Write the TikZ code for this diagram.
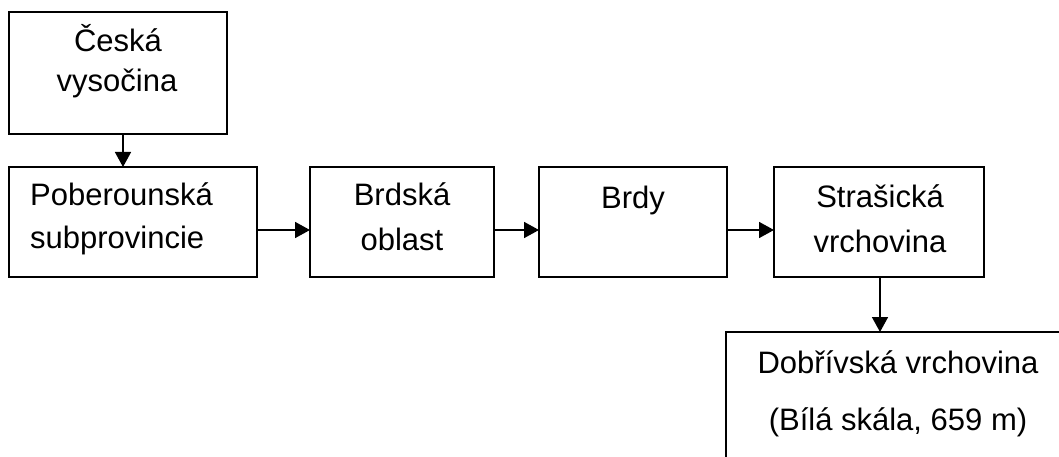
\documentclass[tikz,border=0pt]{standalone}
\usepackage{fontspec}
\setmainfont{Liberation Sans}
\usetikzlibrary{arrows.meta}
\begin{document}
\begin{tikzpicture}[x=1pt,y=-1pt,
  box/.style={draw=black,line width=1.8pt,fill=white},
  lbl/.style={inner sep=0pt,anchor=base,font=\fontsize{31}{36}\selectfont},
  lblw/.style={inner sep=0pt,anchor=base west,font=\fontsize{31}{36}\selectfont},
  arr/.style={line width=1.6pt,-{Triangle[length=15pt,width=16pt]}}]
\useasboundingbox (0,0) rectangle (1059,457);
\begin{scope}
\clip (0,0) rectangle (1059,457);
% boxes
\draw[box] (9,12) rectangle (227,134);
\draw[box] (9,167) rectangle (257,277);
\draw[box] (310,167) rectangle (494,277);
\draw[box] (539,167) rectangle (727,277);
\draw[box] (774,167) rectangle (984,277);
\draw[box] (726,332) rectangle (1075,520);
\end{scope}
% anchor coordinates
\coordinate (ceskaB) at (123,134);
\coordinate (pobT) at (123,167);
\coordinate (pobR) at (257,230);
\coordinate (brdskaL) at (310,230);
\coordinate (brdskaR) at (494,230);
\coordinate (brdyL) at (539,230);
\coordinate (brdyR) at (727,230);
\coordinate (strasL) at (774,230);
\coordinate (strasB) at (880,277);
\coordinate (dobrT) at (880,332);
% texts
\node[lbl] (t1a) at (118,52) {Česká};
\node[lbl] (t1b) at (117,92) {vysočina};
\node[lblw] (t2a) at (30,205) {Poberounská};
\node[lblw] (t2b) at (30,248) {subprovincie};
\node[lbl] (t3a) at (402,205) {Brdská};
\node[lbl] (t3b) at (402,250) {oblast};
\node[lbl] (t4a) at (633,208) {Brdy};
\node[lbl] (t5a) at (880,207) {Strašická};
\node[lbl] (t5b) at (880,252) {vrchovina};
\node[lbl] (t6a) at (898,373) {Dobřívská vrchovina};
\node[lbl] (t6b) at (898,430) {(Bílá skála, 659 m)};
% arrows
\draw[arr] (ceskaB) -- (pobT);
\draw[arr] (pobR) -- (brdskaL);
\draw[arr] (brdskaR) -- (brdyL);
\draw[arr] (brdyR) -- (strasL);
\draw[arr] (strasB) -- (dobrT);
\end{tikzpicture}
\end{document}
